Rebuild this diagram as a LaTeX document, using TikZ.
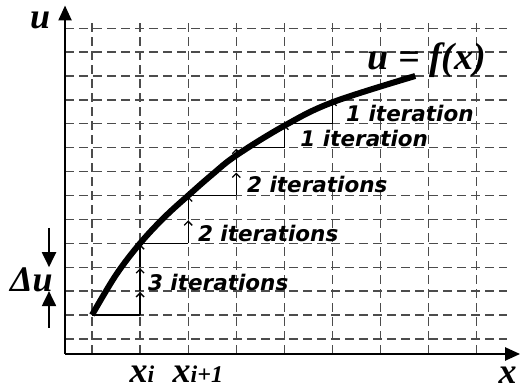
\documentclass[tikz,border=0pt]{standalone}
\usepackage{fontspec}
\setmainfont{Liberation Serif}
\newfontfamily\iterfont{DejaVu Sans}
\usetikzlibrary{arrows.meta}
\tikzset{
  gridline/.style={draw=black!70, line width=1.25pt, dash pattern=on 9pt off 5pt},
  axis/.style={line width=2.4pt, -{Triangle[length=15pt,width=13pt]}},
  stepline/.style={line width=1.3pt},
  steparrow/.style={line width=1.3pt, -{Straight Barb[length=4pt,width=8pt]}, shorten >=1pt},
  duarrow/.style={line width=2pt, -{Triangle[length=15pt,width=14pt]}},
  iterlabel/.style={font=\iterfont\fontsize{21.5}{21.5}\selectfont\bfseries\itshape, anchor=west, inner sep=0pt},
  biglabel/.style={font=\fontsize{36}{36}\selectfont\bfseries\itshape, inner sep=0pt},
  sublabel/.style={font=\bfseries\itshape, inner sep=0pt},
}
\newcommand{\xsub}[1]{{\fontsize{36}{36}\selectfont x}{\fontsize{24}{24}\selectfont #1}}
\begin{document}
\begin{tikzpicture}[x=48.1pt,y=23.9pt]
\useasboundingbox (-1.913,-3.096) rectangle (8.919,13.18);
% grid
\foreach \y in {-1,...,12} \draw[gridline] (-0.56,\y) -- (8.63,\y);
\foreach \x in {0,...,8} \draw[gridline] (\x,-1.63) -- (\x,12.34);
% axes
\coordinate (O) at (-0.561,-1.632);
\coordinate (uend) at (-0.561,12.95);
\coordinate (xend) at (8.9,-1.632);
\draw[axis] (O) -- (uend);
\draw[axis] (O) -- (xend);
\node[biglabel] (ulabel) at (-1.08,12.33) {u};
\node[biglabel] (xlabel) at (8.64,-2.53) {x};
% steps
\draw[stepline] (0,0) -- (1,0);
\draw[steparrow] (1,0) -- (1,1);
\draw[steparrow] (1,1) -- (1,2);
\draw[steparrow] (1,2) -- (1,3);
\draw[stepline] (1,3) -- (2,3);
\draw[steparrow] (2,3) -- (2,4);
\draw[steparrow] (2,4) -- (2,5);
\draw[stepline] (2,5) -- (3,5);
\draw[steparrow] (3,5) -- (3,6);
\draw[steparrow] (3,6) -- (3,7);
\draw[stepline] (3.24,7) -- (4,7);
\draw[steparrow] (4,7) -- (4,8);
\draw[stepline] (4.07,8) -- (5,8);
\draw[steparrow] (5,8) -- (5,9);
% curve
\draw[line width=6pt] plot[smooth, tension=0.6] coordinates {(0,0) (0.5,1.68) (1,3) (1.5,4.08) (2,5) (2.5,5.88) (3,6.68) (4,7.92) (5,8.9) (6.72,10.0)};
\node[font=\fontsize{38}{38}\selectfont\bfseries\itshape, inner sep=0pt] (flabel) at (6.96,10.67) {u = f(x)};
% iterations
\node[iterlabel] (it3) at (1.16,1.34) {3 iterations};
\node[iterlabel] (it2a) at (2.2,3.43) {2 iterations};
\node[iterlabel] (it2b) at (3.22,5.44) {2 iterations};
\node[iterlabel] (it1a) at (4.33,7.4) {1 iteration};
\node[iterlabel] (it1b) at (5.28,8.45) {1 iteration};
% delta u
\coordinate (dutop) at (-0.894,3.64);
\coordinate (duhi) at (-0.894,2);
\coordinate (dubot) at (-0.894,-0.54);
\coordinate (dulo) at (-0.894,1);
\draw[duarrow] (dutop) -- (duhi);
\draw[duarrow] (dubot) -- (dulo);
\node[font=\fontsize{36}{36}\selectfont\bfseries\itshape, inner sep=0pt] (dulabel) at (-1.26,1.46) {Δu};
% x labels
\node[sublabel] (xi) at (1.04,-2.47) {\xsub{i}};
\node[sublabel] (xinext) at (2.2,-2.47) {\xsub{i+1}};
\end{tikzpicture}
\end{document}
